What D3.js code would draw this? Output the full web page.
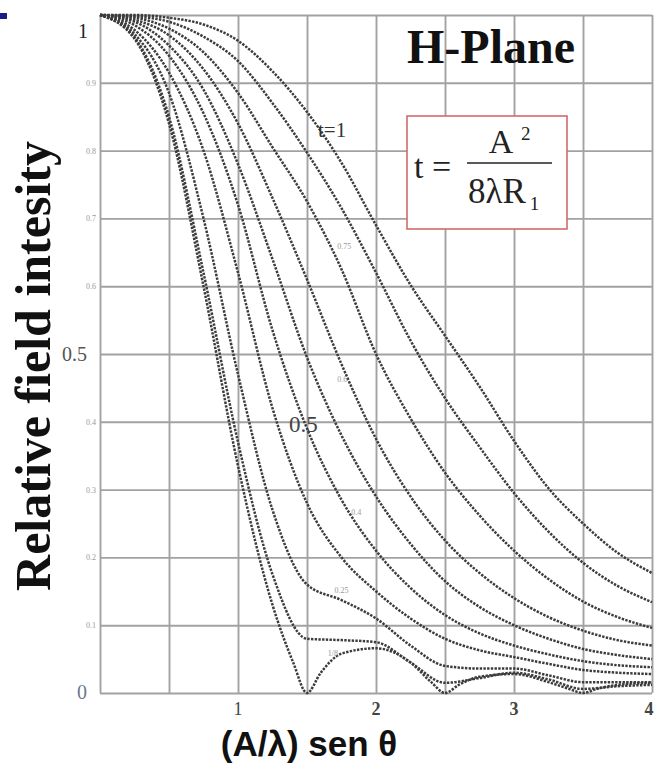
<!DOCTYPE html>
<html>
<head>
<meta charset="utf-8">
<script src="https://cdn.jsdelivr.net/npm/d3@7"></script>
<style>
  body { margin: 0; background: #fff; }
</style>
</head>
<body>
<script>
// sample points along (A/lambda) sin(theta)
var xs = [0, 0.25, 0.5, 0.75, 1, 1.25, 1.5, 1.75, 2, 2.25, 2.5, 2.75, 3, 3.25, 3.5, 3.75, 4];

// t = 0 curve has its own, denser points around the nulls
var xsZero = [0, 0.25, 0.5, 0.75, 1, 1.25, 1.4, 1.5, 1.6, 1.75, 2, 2.25, 2.4, 2.5, 2.6, 2.75, 3, 3.25, 3.4, 3.5, 3.6, 3.75, 4];
var curveZero = [1, 0.965, 0.84, 0.6, 0.335, 0.13, 0.045, 0, 0.03, 0.058, 0.066, 0.045, 0.016, 0, 0.012, 0.024, 0.028, 0.016, 0.006, 0, 0.006, 0.012, 0.015];

var curve1 = [1, 0.967, 0.85, 0.62, 0.37, 0.175, 0.08, 0.078, 0.075, 0.045, 0.015, 0.022, 0.03, 0.02, 0.006, 0.01, 0.012];
var curve2 = [1, 0.972, 0.885, 0.7, 0.47, 0.27, 0.16, 0.137, 0.11, 0.07, 0.04, 0.036, 0.036, 0.026, 0.016, 0.016, 0.016];
var curve3 = [1, 0.978, 0.915, 0.8, 0.62, 0.42, 0.28, 0.2, 0.15, 0.11, 0.08, 0.063, 0.053, 0.043, 0.034, 0.03, 0.028];
var curve4 = [1, 0.985, 0.94, 0.855, 0.72, 0.535, 0.39, 0.285, 0.21, 0.155, 0.115, 0.088, 0.07, 0.057, 0.047, 0.041, 0.038];
var curve5 = [1, 0.99, 0.955, 0.89, 0.78, 0.64, 0.495, 0.38, 0.29, 0.22, 0.165, 0.127, 0.1, 0.08, 0.065, 0.056, 0.05];
var curve6 = [1, 0.993, 0.97, 0.92, 0.84, 0.73, 0.61, 0.485, 0.375, 0.29, 0.225, 0.177, 0.14, 0.112, 0.092, 0.078, 0.07];
var curve7 = [1, 0.996, 0.98, 0.945, 0.885, 0.805, 0.725, 0.625, 0.5, 0.405, 0.325, 0.262, 0.21, 0.168, 0.135, 0.112, 0.096];
var curve8 = [1, 0.998, 0.99, 0.968, 0.932, 0.87, 0.797, 0.715, 0.62, 0.52, 0.435, 0.363, 0.295, 0.238, 0.192, 0.158, 0.134];
var curveOne = [1, 1, 0.996, 0.986, 0.962, 0.917, 0.857, 0.782, 0.69, 0.602, 0.527, 0.452, 0.372, 0.302, 0.25, 0.207, 0.177];

var xGrid = [0, 0.5, 1, 1.5, 2, 2.5, 3, 3.5, 4];
var yGrid = [0, 0.1, 0.2, 0.3, 0.4, 0.5, 0.6, 0.7, 0.8, 0.9, 1];
var xTickLabels = [1, 2, 3, 4];
var yBigTicks = [1, 0.5, 0];
var yBigText = ['1', '0.5', '0'];
var ySmallTicks = [0.9, 0.8, 0.7, 0.6, 0.4, 0.3, 0.2, 0.1];

// small curve labels, in data units
var smallLabelText = ['0.75', '0.6', '0.4', '0.25', '1/8'];
var smallLabelX = [1.72, 1.72, 1.82, 1.7, 1.65];
var smallLabelY = [0.655, 0.458, 0.262, 0.148, 0.055];

var fullWidth = 665;
var fullHeight = 765;

var svg = d3.select('body').append('svg')
  .attr('width', fullWidth)
  .attr('height', fullHeight)
  .style('font-family', '"Liberation Serif", "Times New Roman", serif');

var x = d3.scaleLinear().domain([0, 4]).range([100, 652]);
var y = d3.scaleLinear().domain([0, 1]).range([693, 15]);

// little blue slide mark in the corner
svg.append('rect')
  .attr('x', 0).attr('y', 13)
  .attr('width', 7).attr('height', 6)
  .attr('fill', '#1b1b8a');

// grid
var grid = svg.append('g').classed('grid', true);

grid.append('g')
  .attr('transform', 'translate(0,' + y(0) + ')')
  .call(d3.axisBottom(x).tickValues(xGrid).tickSize(-(y(0) - y(1))).tickFormat(''))
  .call(function(g) { g.select('.domain').remove(); });

grid.append('g')
  .attr('transform', 'translate(' + x(0) + ',0)')
  .call(d3.axisLeft(y).tickValues(yGrid).tickSize(-(x(4) - x(0))).tickFormat(''))
  .call(function(g) { g.select('.domain').remove(); });

grid.selectAll('line')
  .attr('stroke', '#a2a2a2')
  .attr('stroke-width', 1.9);

// curves
var line = d3.line()
  .x(function(d) { return x(d[0]); })
  .y(function(d) { return y(d[1]); })
  .curve(d3.curveMonotoneX);

var series = [curve1, curve2, curve3, curve4, curve5, curve6, curve7, curve8, curveOne].map(function(ys) {
  return xs.map(function(v, i) { return [v, ys[i]]; });
});
series.unshift(xsZero.map(function(v, i) { return [v, curveZero[i]]; }));

svg.append('g').classed('curves', true)
  .selectAll('path')
  .data(series)
  .enter().append('path')
    .attr('d', line)
    .attr('fill', 'none')
    .attr('stroke', '#3c3c3c')
    .attr('stroke-width', 2.5)
    .attr('stroke-dasharray', '2.4,1.3');

// y tick labels
var bigDy = [23, 7, 6];
svg.selectAll('.ybig')
  .data(yBigTicks)
  .enter().append('text')
    .classed('ybig', true)
    .attr('x', function(d, i) { return i === 0 ? x(0) - 12 : x(0) - 13; })
    .attr('y', function(d, i) { return y(d) + bigDy[i]; })
    .attr('text-anchor', 'end')
    .style('font-size', '20px')
    .style('fill', function(d, i) { return i === 2 ? '#6b7a8c' : (i === 1 ? '#555' : '#222'); })
    .text(function(d, i) { return yBigText[i]; });

svg.selectAll('.ysmall')
  .data(ySmallTicks)
  .enter().append('text')
    .classed('ysmall', true)
    .attr('x', x(0) - 4)
    .attr('y', function(d) { return y(d) + 3; })
    .attr('text-anchor', 'end')
    .style('font-size', '8px')
    .style('fill', '#999')
    .text(function(d) { return d.toFixed(1); });

// x tick labels
svg.selectAll('.xlab')
  .data(xTickLabels)
  .enter().append('text')
    .classed('xlab', true)
    .attr('x', function(d) { return x(d) - (d === 4 ? 3 : 0); })
    .attr('y', 715)
    .attr('text-anchor', 'middle')
    .style('font-size', '18px')
    .style('font-weight', function(d) { return d === 1 ? 'normal' : 'bold'; })
    .style('fill', '#444')
    .text(function(d) { return d; });

// axis titles
svg.append('text')
  .attr('transform', 'translate(50,366)rotate(-90)')
  .attr('text-anchor', 'middle')
  .style('font-size', '50px')
  .style('font-weight', 'bold')
  .style('fill', '#111')
  .text('Relative field intesity');

svg.append('text')
  .attr('x', 309)
  .attr('y', 756)
  .attr('text-anchor', 'middle')
  .style('font-family', '"Liberation Sans", Arial, sans-serif')
  .style('font-size', '35px')
  .style('font-weight', 'bold')
  .style('fill', '#111')
  .text('(A/\u03bb) sen \u03b8');

// title
svg.append('text')
  .attr('x', 407)
  .attr('y', 63)
  .style('font-size', '48px')
  .style('font-weight', 'bold')
  .style('fill', '#111')
  .text('H-Plane');

// formula box
var box = svg.append('g').classed('formula', true);
box.append('rect')
  .attr('x', 407).attr('y', 116)
  .attr('width', 160).attr('height', 113)
  .attr('fill', '#fff')
  .attr('stroke', '#d46a6a')
  .attr('stroke-width', 1.6);
box.append('text')
  .attr('x', 414).attr('y', 178)
  .style('font-size', '34px')
  .style('fill', '#222')
  .text('t =');
box.append('text')
  .attr('x', 501).attr('y', 153)
  .attr('text-anchor', 'middle')
  .style('font-size', '34px')
  .style('fill', '#222')
  .text('A');
box.append('text')
  .attr('x', 521).attr('y', 140)
  .style('font-size', '19px')
  .style('fill', '#222')
  .text('2');
box.append('line')
  .attr('x1', 467).attr('x2', 552)
  .attr('y1', 163).attr('y2', 163)
  .attr('stroke', '#222')
  .attr('stroke-width', 1.5);
var denom = box.append('text')
  .attr('x', 468).attr('y', 203)
  .style('font-size', '35px')
  .style('fill', '#222')
  .text('8\u03bbR');
box.append('text')
  .attr('x', 468 + denom.node().getComputedTextLength() + 4).attr('y', 210)
  .style('font-size', '19px')
  .style('fill', '#222')
  .text('1');

// curve labels
svg.append('text')
  .attr('x', x(1.58)).attr('y', y(0.82))
  .style('font-size', '21px')
  .style('fill', '#333')
  .text('t=1');

svg.append('text')
  .attr('x', x(1.37)).attr('y', y(0.385))
  .style('font-size', '23px')
  .style('fill', '#444')
  .text('0.5');

svg.selectAll('.small-lab')
  .data(smallLabelText)
  .enter().append('text')
    .classed('small-lab', true)
    .attr('x', function(d, i) { return x(smallLabelX[i]); })
    .attr('y', function(d, i) { return y(smallLabelY[i]); })
    .style('font-size', '8px')
    .style('fill', '#999')
    .text(function(d) { return d; });
</script>
</body>
</html>
